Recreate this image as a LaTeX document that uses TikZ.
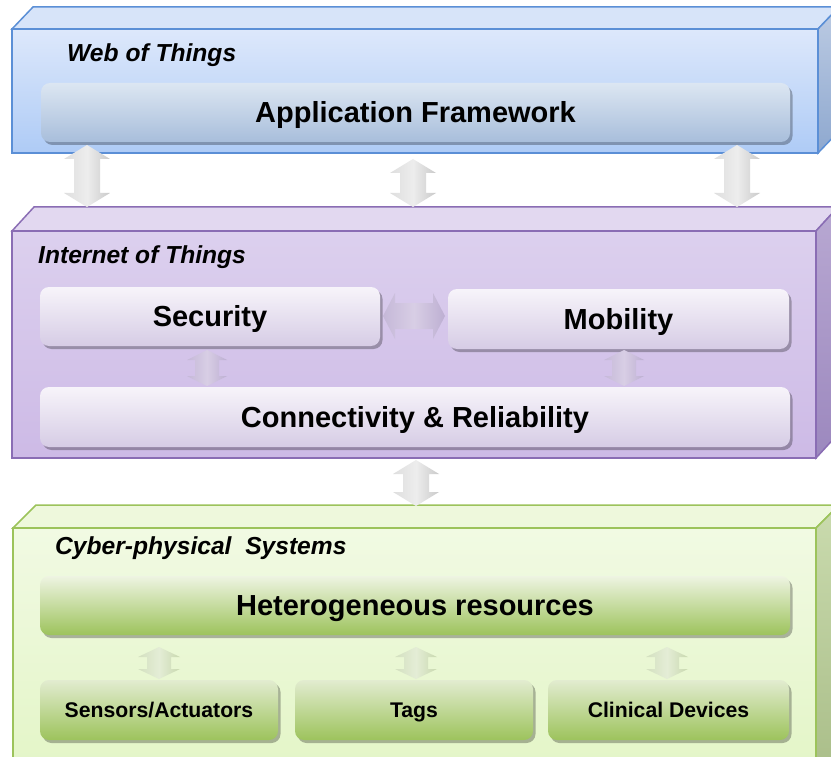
\documentclass[tikz,border=0pt]{standalone}
\usepackage{fontspec}
\setmainfont{Liberation Sans}
\usetikzlibrary{shadows,calc}
\definecolor{wotT}{HTML}{DDE8FB}
\definecolor{wotB}{HTML}{AECBF6}
\definecolor{wotE}{HTML}{5B8FD6}
\definecolor{wotTop}{HTML}{D7E4F9}
\definecolor{wotSideT}{HTML}{BCCBE3}
\definecolor{wotSideB}{HTML}{8EA8CF}
\definecolor{appT}{HTML}{DCE6F2}
\definecolor{appB}{HTML}{A8BEDB}
\definecolor{iotT}{HTML}{DCD0EE}
\definecolor{iotB}{HTML}{CDBAE6}
\definecolor{iotE}{HTML}{8A6DB4}
\definecolor{iotTop}{HTML}{E2D8F0}
\definecolor{iotSideT}{HTML}{B8A8D2}
\definecolor{iotSideB}{HTML}{9C88BE}
\definecolor{secT}{HTML}{F7F4FA}
\definecolor{secB}{HTML}{D6CCE5}
\definecolor{cpsT}{HTML}{F1FAE3}
\definecolor{cpsB}{HTML}{E3F5C6}
\definecolor{cpsE}{HTML}{9CC35B}
\definecolor{cpsTop}{HTML}{EEF8DC}
\definecolor{cpsSideT}{HTML}{CADBAE}
\definecolor{cpsSideB}{HTML}{A9BD88}
\definecolor{hetT}{HTML}{EEF4E2}
\definecolor{hetB}{HTML}{9DC35C}
\definecolor{smlT}{HTML}{E2ECD0}
\definecolor{smlB}{HTML}{9DC35C}
\definecolor{parL}{HTML}{C5B8D8}
\definecolor{parM}{HTML}{D8CEE5}
\definecolor{parR}{HTML}{BDAFD2}
\definecolor{garL}{HTML}{D3E0BF}
\definecolor{garM}{HTML}{E4EDD6}
\definecolor{garR}{HTML}{C8D8AE}
\newcommand\vdarrow[6]{%
  \path[#6] let \p1=(#1), \p2=(#2) in
   (\x1,\y1) -- (\x1+#4,\y1-#5) -- (\x1+#3,\y1-#5) -- (\x1+#3,\y2+#5) -- (\x1+#4,\y2+#5)
   -- (\x1,\y2) -- (\x1-#4,\y2+#5) -- (\x1-#3,\y2+#5) -- (\x1-#3,\y1-#5) -- (\x1-#4,\y1-#5) -- cycle;}
\newcommand\hdarrow[6]{%
  \path[#6] let \p1=(#1), \p2=(#2) in
   (\x1,\y1) -- (\x1+#5,\y1+#4) -- (\x1+#5,\y1+#3) -- (\x2-#5,\y1+#3) -- (\x2-#5,\y1+#4)
   -- (\x2,\y1) -- (\x2-#5,\y1-#4) -- (\x2-#5,\y1-#3) -- (\x1+#5,\y1-#3) -- (\x1+#5,\y1-#4) -- cycle;}
\begin{document}
\begin{tikzpicture}[x=1pt,y=-1pt,
  face/.style={inner sep=0pt,outer sep=0pt,line width=1.5pt},
  inbox/.style={rounded corners=9pt,inner sep=0pt,outer sep=0pt,
     drop shadow={shadow xshift=2.5pt,shadow yshift=-3pt,opacity=0.28,fill=black}},
  bigtxt/.style={font=\fontsize{29}{34}\selectfont\bfseries,text height=20.8pt,text depth=0pt},
  smltxt/.style={font=\fontsize{21.2}{25}\selectfont\bfseries,text height=15.2pt,text depth=0pt},
  lbltxt/.style={font=\fontsize{24.6}{29}\selectfont\bfseries\itshape,anchor=base west,inner sep=0pt},
  grayarr/.style={left color=black!13,right color=black!21,middle color=black!7},
  purarr/.style={left color=parL,right color=parR,middle color=parM},
  grnarr/.style={left color=garL,right color=garR,middle color=garM}]
\useasboundingbox (0,0) rectangle (831,757);
\clip (0,0) rectangle (831,757);
\fill[white] (0,0) rectangle (831,757);

% ---------- Web of Things ----------
\node[face,draw=wotE,top color=wotT,bottom color=wotB,minimum width=806pt,minimum height=124pt] (wot) at (415,91) {};
\filldraw[face,draw=wotE,fill=wotTop] (wot.north west) -- ++(21,-22) -- ($(wot.north east)+(21,-22)$) -- (wot.north east) -- cycle;
\filldraw[face,draw=wotE,top color=wotSideT,bottom color=wotSideB] (wot.north east) -- ++(21,-22) -- ($(wot.south east)+(21,-22)$) -- (wot.south east) -- cycle;
\draw[face,draw=wotE] (wot.north west) rectangle (wot.south east);
\node[lbltxt] (wotl) at (67,62) {Web of Things};
\node[inbox,top color=appT,bottom color=appB,minimum width=749pt,minimum height=59pt,bigtxt] (app) at (415.5,112.5) {Application Framework};

% ---------- Internet of Things ----------
\node[face,draw=iotE,top color=iotT,bottom color=iotB,minimum width=804pt,minimum height=227pt] (iot) at (414,344.5) {};
\filldraw[face,draw=iotE,fill=iotTop] (iot.north west) -- ++(22,-24) -- ($(iot.north east)+(22,-24)$) -- (iot.north east) -- cycle;
\filldraw[face,draw=iotE,top color=iotSideT,bottom color=iotSideB] (iot.north east) -- ++(22,-24) -- ($(iot.south east)+(22,-24)$) -- (iot.south east) -- cycle;
\draw[face,draw=iotE] (iot.north west) rectangle (iot.south east);
\node[lbltxt] (iotl) at (38,263) {Internet of Things};
\node[inbox,top color=secT,bottom color=secB,minimum width=340pt,minimum height=59pt,bigtxt] (sec) at (210,316.5) {Security};
\node[inbox,top color=secT,bottom color=secB,minimum width=341pt,minimum height=60pt,bigtxt] (mob) at (618.5,319) {Mobility};
\node[inbox,top color=secT,bottom color=secB,minimum width=750pt,minimum height=60pt,bigtxt] (con) at (415,417) {Connectivity \& Reliability};

% ---------- Cyber-physical Systems ----------
\node[face,draw=cpsE,top color=cpsT,bottom color=cpsB,minimum width=803pt,minimum height=252pt] (cps) at (414.5,654) {};
\filldraw[face,draw=cpsE,fill=cpsTop] (cps.north west) -- ++(23,-23) -- ($(cps.north east)+(23,-23)$) -- (cps.north east) -- cycle;
\filldraw[face,draw=cpsE,top color=cpsSideT,bottom color=cpsSideB] (cps.north east) -- ++(23,-23) -- ($(cps.south east)+(23,-23)$) -- (cps.south east) -- cycle;
\draw[face,draw=cpsE] (cps.north west) rectangle (cps.south east);
\node[lbltxt] (cpsl) at (55,554) {Cyber-physical\hspace{0.28em} Systems};
\node[inbox,top color=hetT,bottom color=hetB,minimum width=750pt,minimum height=59pt,bigtxt] (het) at (415,605.5) {Heterogeneous resources};
\node[inbox,top color=smlT,bottom color=smlB,minimum width=238pt,minimum height=60pt,smltxt] (sen) at (159,710) {Sensors/Actuators};
\node[inbox,top color=smlT,bottom color=smlB,minimum width=238pt,minimum height=60pt,smltxt] (tag) at (414,710) {Tags};
\node[inbox,top color=smlT,bottom color=smlB,minimum width=241pt,minimum height=60pt,smltxt] (cli) at (668.5,710) {Clinical Devices};

% ---------- arrows ----------
\coordinate (a1t) at (87,145);  \coordinate (a1b) at (87,207);
\coordinate (a2t) at (413,159); \coordinate (a2b) at (413,207);
\coordinate (a3t) at (737,145); \coordinate (a3b) at (737,207);
\vdarrow{a1t}{a1b}{13pt}{23pt}{14pt}{grayarr}
\vdarrow{a2t}{a2b}{13pt}{23pt}{14pt}{grayarr}
\vdarrow{a3t}{a3b}{13pt}{23pt}{14pt}{grayarr}

\coordinate (hl) at (383,316); \coordinate (hr) at (445,316);
\hdarrow{hl}{hr}{13pt}{23pt}{12pt}{purarr}
\coordinate (b1t) at (207,350); \coordinate (b1b) at (207,386);
\coordinate (b2t) at (624,350); \coordinate (b2b) at (624,386);
\vdarrow{b1t}{b1b}{12pt}{20pt}{10pt}{purarr}
\vdarrow{b2t}{b2b}{12pt}{20pt}{10pt}{purarr}

\coordinate (c1t) at (416,460); \coordinate (c1b) at (416,506);
\vdarrow{c1t}{c1b}{13pt}{23pt}{14pt}{grayarr}

\coordinate (d1t) at (159,647); \coordinate (d1b) at (159,679);
\coordinate (d2t) at (416,647); \coordinate (d2b) at (416,679);
\coordinate (d3t) at (667,647); \coordinate (d3b) at (667,679);
\vdarrow{d1t}{d1b}{12pt}{21pt}{10pt}{grnarr}
\vdarrow{d2t}{d2b}{12pt}{21pt}{10pt}{grnarr}
\vdarrow{d3t}{d3b}{12pt}{21pt}{10pt}{grnarr}
\end{tikzpicture}
\end{document}
